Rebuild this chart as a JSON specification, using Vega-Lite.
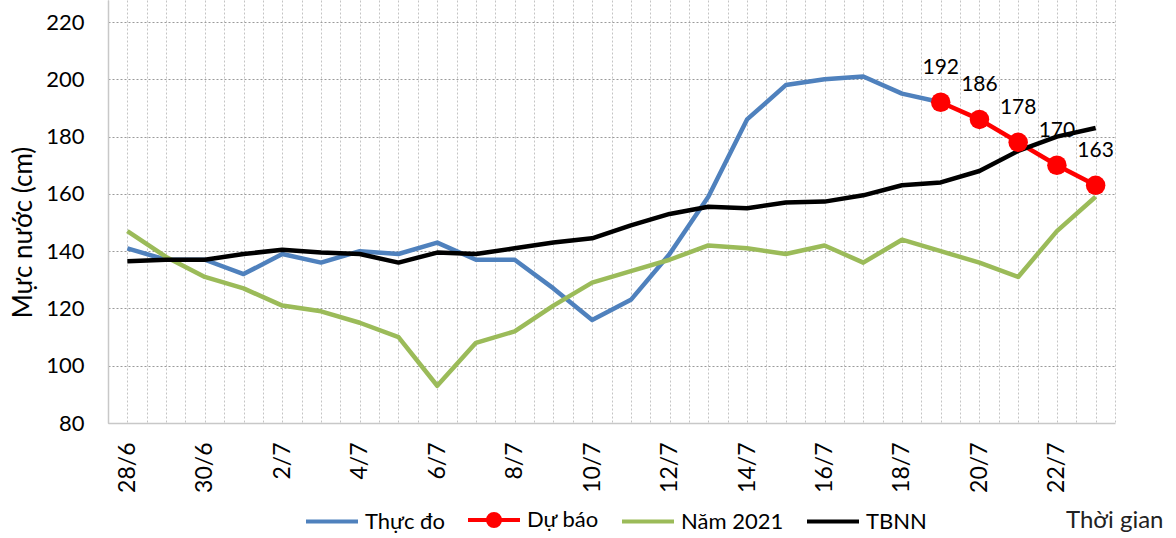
{
  "$schema": "https://vega.github.io/schema/vega-lite/v6.json",
  "autosize": "none",
  "width": 1007,
  "height": 423,
  "padding": {"left": 108, "top": 0, "right": 61, "bottom": 115},
  "background": "white",
  "config": {
    "view": {"stroke": null},
    "font": "Lato",
    "axis": {"labelFont": "Lato", "titleFont": "Lato", "labelColor": "#000", "titleColor": "#000"}
  },
  "data": {
    "values": [
      {"date": "2022/06/28", "series": "Thực đo", "value": 141},
      {"date": "2022/06/29", "series": "Thực đo", "value": 137},
      {"date": "2022/06/30", "series": "Thực đo", "value": 137},
      {"date": "2022/07/01", "series": "Thực đo", "value": 132},
      {"date": "2022/07/02", "series": "Thực đo", "value": 139},
      {"date": "2022/07/03", "series": "Thực đo", "value": 136},
      {"date": "2022/07/04", "series": "Thực đo", "value": 140},
      {"date": "2022/07/05", "series": "Thực đo", "value": 139},
      {"date": "2022/07/06", "series": "Thực đo", "value": 143},
      {"date": "2022/07/07", "series": "Thực đo", "value": 137},
      {"date": "2022/07/08", "series": "Thực đo", "value": 137},
      {"date": "2022/07/09", "series": "Thực đo", "value": 127},
      {"date": "2022/07/10", "series": "Thực đo", "value": 116},
      {"date": "2022/07/11", "series": "Thực đo", "value": 123},
      {"date": "2022/07/12", "series": "Thực đo", "value": 139},
      {"date": "2022/07/13", "series": "Thực đo", "value": 159},
      {"date": "2022/07/14", "series": "Thực đo", "value": 186},
      {"date": "2022/07/15", "series": "Thực đo", "value": 198},
      {"date": "2022/07/16", "series": "Thực đo", "value": 200},
      {"date": "2022/07/17", "series": "Thực đo", "value": 201},
      {"date": "2022/07/18", "series": "Thực đo", "value": 195},
      {"date": "2022/07/19", "series": "Thực đo", "value": 192},
      {"date": "2022/07/19", "series": "Dự báo", "value": 192},
      {"date": "2022/07/20", "series": "Dự báo", "value": 186},
      {"date": "2022/07/21", "series": "Dự báo", "value": 178},
      {"date": "2022/07/22", "series": "Dự báo", "value": 170},
      {"date": "2022/07/23", "series": "Dự báo", "value": 163},
      {"date": "2022/06/28", "series": "Năm 2021", "value": 147},
      {"date": "2022/06/29", "series": "Năm 2021", "value": 138},
      {"date": "2022/06/30", "series": "Năm 2021", "value": 131},
      {"date": "2022/07/01", "series": "Năm 2021", "value": 127},
      {"date": "2022/07/02", "series": "Năm 2021", "value": 121},
      {"date": "2022/07/03", "series": "Năm 2021", "value": 119},
      {"date": "2022/07/04", "series": "Năm 2021", "value": 115},
      {"date": "2022/07/05", "series": "Năm 2021", "value": 110},
      {"date": "2022/07/06", "series": "Năm 2021", "value": 93},
      {"date": "2022/07/07", "series": "Năm 2021", "value": 108},
      {"date": "2022/07/08", "series": "Năm 2021", "value": 112},
      {"date": "2022/07/09", "series": "Năm 2021", "value": 121},
      {"date": "2022/07/10", "series": "Năm 2021", "value": 129},
      {"date": "2022/07/11", "series": "Năm 2021", "value": 133},
      {"date": "2022/07/12", "series": "Năm 2021", "value": 137},
      {"date": "2022/07/13", "series": "Năm 2021", "value": 142},
      {"date": "2022/07/14", "series": "Năm 2021", "value": 141},
      {"date": "2022/07/15", "series": "Năm 2021", "value": 139},
      {"date": "2022/07/16", "series": "Năm 2021", "value": 142},
      {"date": "2022/07/17", "series": "Năm 2021", "value": 136},
      {"date": "2022/07/18", "series": "Năm 2021", "value": 144},
      {"date": "2022/07/19", "series": "Năm 2021", "value": 140},
      {"date": "2022/07/20", "series": "Năm 2021", "value": 136},
      {"date": "2022/07/21", "series": "Năm 2021", "value": 131},
      {"date": "2022/07/22", "series": "Năm 2021", "value": 147},
      {"date": "2022/07/23", "series": "Năm 2021", "value": 159},
      {"date": "2022/06/28", "series": "TBNN", "value": 136.5},
      {"date": "2022/06/29", "series": "TBNN", "value": 137},
      {"date": "2022/06/30", "series": "TBNN", "value": 137},
      {"date": "2022/07/01", "series": "TBNN", "value": 139},
      {"date": "2022/07/02", "series": "TBNN", "value": 140.5},
      {"date": "2022/07/03", "series": "TBNN", "value": 139.5},
      {"date": "2022/07/04", "series": "TBNN", "value": 139},
      {"date": "2022/07/05", "series": "TBNN", "value": 136},
      {"date": "2022/07/06", "series": "TBNN", "value": 139.5},
      {"date": "2022/07/07", "series": "TBNN", "value": 139},
      {"date": "2022/07/08", "series": "TBNN", "value": 141},
      {"date": "2022/07/09", "series": "TBNN", "value": 143},
      {"date": "2022/07/10", "series": "TBNN", "value": 144.5},
      {"date": "2022/07/11", "series": "TBNN", "value": 149},
      {"date": "2022/07/12", "series": "TBNN", "value": 153},
      {"date": "2022/07/13", "series": "TBNN", "value": 155.5},
      {"date": "2022/07/14", "series": "TBNN", "value": 155},
      {"date": "2022/07/15", "series": "TBNN", "value": 157},
      {"date": "2022/07/16", "series": "TBNN", "value": 157.3},
      {"date": "2022/07/17", "series": "TBNN", "value": 159.5},
      {"date": "2022/07/18", "series": "TBNN", "value": 163},
      {"date": "2022/07/19", "series": "TBNN", "value": 164},
      {"date": "2022/07/20", "series": "TBNN", "value": 168},
      {"date": "2022/07/21", "series": "TBNN", "value": 175},
      {"date": "2022/07/22", "series": "TBNN", "value": 180},
      {"date": "2022/07/23", "series": "TBNN", "value": 183}
    ]
  },
  "encoding": {
    "x": {
      "field": "date",
      "type": "temporal",
      "scale": {
        "domain": [
          {"year": 2022, "month": 6, "date": 27, "hours": 12},
          {"year": 2022, "month": 7, "date": 23, "hours": 12}
        ]
      },
      "axis": {
        "title": "Thời gian",
        "titleFontSize": 24,
        "titleFontWeight": "normal",
        "titleColor": "#222",
        "titleAlign": "right",
        "titleBaseline": "middle",
        "titleX": 1055,
        "titleY": 97,
        "values": [
          {"year": 2022, "month": 6, "date": 27, "hours": 12},
          {"year": 2022, "month": 6, "date": 28, "hours": 0},
          {"year": 2022, "month": 6, "date": 28, "hours": 12},
          {"year": 2022, "month": 6, "date": 29, "hours": 0},
          {"year": 2022, "month": 6, "date": 29, "hours": 12},
          {"year": 2022, "month": 6, "date": 30, "hours": 0},
          {"year": 2022, "month": 6, "date": 30, "hours": 12},
          {"year": 2022, "month": 7, "date": 1, "hours": 0},
          {"year": 2022, "month": 7, "date": 1, "hours": 12},
          {"year": 2022, "month": 7, "date": 2, "hours": 0},
          {"year": 2022, "month": 7, "date": 2, "hours": 12},
          {"year": 2022, "month": 7, "date": 3, "hours": 0},
          {"year": 2022, "month": 7, "date": 3, "hours": 12},
          {"year": 2022, "month": 7, "date": 4, "hours": 0},
          {"year": 2022, "month": 7, "date": 4, "hours": 12},
          {"year": 2022, "month": 7, "date": 5, "hours": 0},
          {"year": 2022, "month": 7, "date": 5, "hours": 12},
          {"year": 2022, "month": 7, "date": 6, "hours": 0},
          {"year": 2022, "month": 7, "date": 6, "hours": 12},
          {"year": 2022, "month": 7, "date": 7, "hours": 0},
          {"year": 2022, "month": 7, "date": 7, "hours": 12},
          {"year": 2022, "month": 7, "date": 8, "hours": 0},
          {"year": 2022, "month": 7, "date": 8, "hours": 12},
          {"year": 2022, "month": 7, "date": 9, "hours": 0},
          {"year": 2022, "month": 7, "date": 9, "hours": 12},
          {"year": 2022, "month": 7, "date": 10, "hours": 0},
          {"year": 2022, "month": 7, "date": 10, "hours": 12},
          {"year": 2022, "month": 7, "date": 11, "hours": 0},
          {"year": 2022, "month": 7, "date": 11, "hours": 12},
          {"year": 2022, "month": 7, "date": 12, "hours": 0},
          {"year": 2022, "month": 7, "date": 12, "hours": 12},
          {"year": 2022, "month": 7, "date": 13, "hours": 0},
          {"year": 2022, "month": 7, "date": 13, "hours": 12},
          {"year": 2022, "month": 7, "date": 14, "hours": 0},
          {"year": 2022, "month": 7, "date": 14, "hours": 12},
          {"year": 2022, "month": 7, "date": 15, "hours": 0},
          {"year": 2022, "month": 7, "date": 15, "hours": 12},
          {"year": 2022, "month": 7, "date": 16, "hours": 0},
          {"year": 2022, "month": 7, "date": 16, "hours": 12},
          {"year": 2022, "month": 7, "date": 17, "hours": 0},
          {"year": 2022, "month": 7, "date": 17, "hours": 12},
          {"year": 2022, "month": 7, "date": 18, "hours": 0},
          {"year": 2022, "month": 7, "date": 18, "hours": 12},
          {"year": 2022, "month": 7, "date": 19, "hours": 0},
          {"year": 2022, "month": 7, "date": 19, "hours": 12},
          {"year": 2022, "month": 7, "date": 20, "hours": 0},
          {"year": 2022, "month": 7, "date": 20, "hours": 12},
          {"year": 2022, "month": 7, "date": 21, "hours": 0},
          {"year": 2022, "month": 7, "date": 21, "hours": 12},
          {"year": 2022, "month": 7, "date": 22, "hours": 0},
          {"year": 2022, "month": 7, "date": 22, "hours": 12},
          {"year": 2022, "month": 7, "date": 23, "hours": 0},
          {"year": 2022, "month": 7, "date": 23, "hours": 12}
        ],
        "labelExpr": "hours(datum.value) === 0 && date(datum.value) % 2 === 0 ? timeFormat(datum.value, '%-d/%-m') : ''",
        "labelAngle": -90,
        "labelFontSize": 23,
        "labelPadding": 19,
        "labelOverlap": false,
        "labelBound": false,
        "labelFlush": false,
        "ticks": false,
        "grid": true,
        "gridColor": "#c4c4c4",
        "gridDash": [2, 2],
        "gridWidth": 1,
        "domainColor": "#c8c8c8",
        "domainWidth": 1.5
      }
    },
    "y": {
      "field": "value",
      "type": "quantitative",
      "scale": {"domain": [80, 227.7], "nice": false, "zero": false},
      "axis": {
        "title": "Mực nước (cm)",
        "titleFontSize": 26,
        "titleFontWeight": "normal",
        "titleAngle": -90,
        "titleX": -85,
        "titleY": 232,
        "titleAlign": "center",
        "titleBaseline": "middle",
        "values": [80, 100, 120, 140, 160, 180, 200, 220],
        "labelFontSize": 22,
        "labelPadding": 24,
        "ticks": false,
        "grid": true,
        "gridColor": "#9a9a9a",
        "gridDash": [2, 2],
        "gridWidth": 1,
        "domainColor": "#c8c8c8",
        "domainWidth": 1.5
      }
    }
  },
  "layer": [
    {
      "mark": {"type": "line", "strokeWidth": 4.5, "strokeJoin": "round", "strokeCap": "butt"},
      "encoding": {
        "color": {
          "field": "series",
          "type": "nominal",
          "sort": ["Thực đo", "Dự báo", "Năm 2021", "TBNN"],
          "scale": {
            "domain": ["Thực đo", "Dự báo", "Năm 2021", "TBNN"],
            "range": ["#4f81bd", "#ff0000", "#9bbb59", "#000000"]
          },
          "legend": {
            "title": null,
            "orient": "none",
            "direction": "horizontal",
            "legendX": 196,
            "legendY": 492,
            "padding": 0,
            "symbolType": "stroke",
            "symbolSize": 2704,
            "symbolStrokeWidth": 4,
            "labelFontSize": 22,
            "labelFont": "Lato",
            "labelColor": "#000",
            "labelOffset": 5,
            "columnPadding": 15,
            "labelLimit": 300,
            "encode": {
              "symbols": {
                "update": {
                  "shape": {"signal": "datum.value === 'Dự báo' ? 'M-1,0L-0.23,0A0.23,0.23 0 1,1 0.23,0A0.23,0.23 0 1,1 -0.23,0ZM0.23,0L1,0' : 'stroke'"},
                  "fill": {"signal": "datum.value === 'Dự báo' ? '#ff0000' : 'transparent'"},
                  "fillOpacity": {"value": 1}
                }
              }
            }
          }
        }
      }
    },
    {
      "transform": [{"filter": "datum.series === 'Dự báo'"}],
      "mark": {"type": "point", "shape": "circle", "filled": true, "size": 380, "color": "#ff0000", "opacity": 1}
    },
    {
      "transform": [{"filter": "datum.series === 'Dự báo'"}],
      "mark": {"type": "text", "dy": -34, "fontSize": 21, "font": "Lato", "color": "#000"},
      "encoding": {"text": {"field": "value", "type": "quantitative"}}
    }
  ]
}
